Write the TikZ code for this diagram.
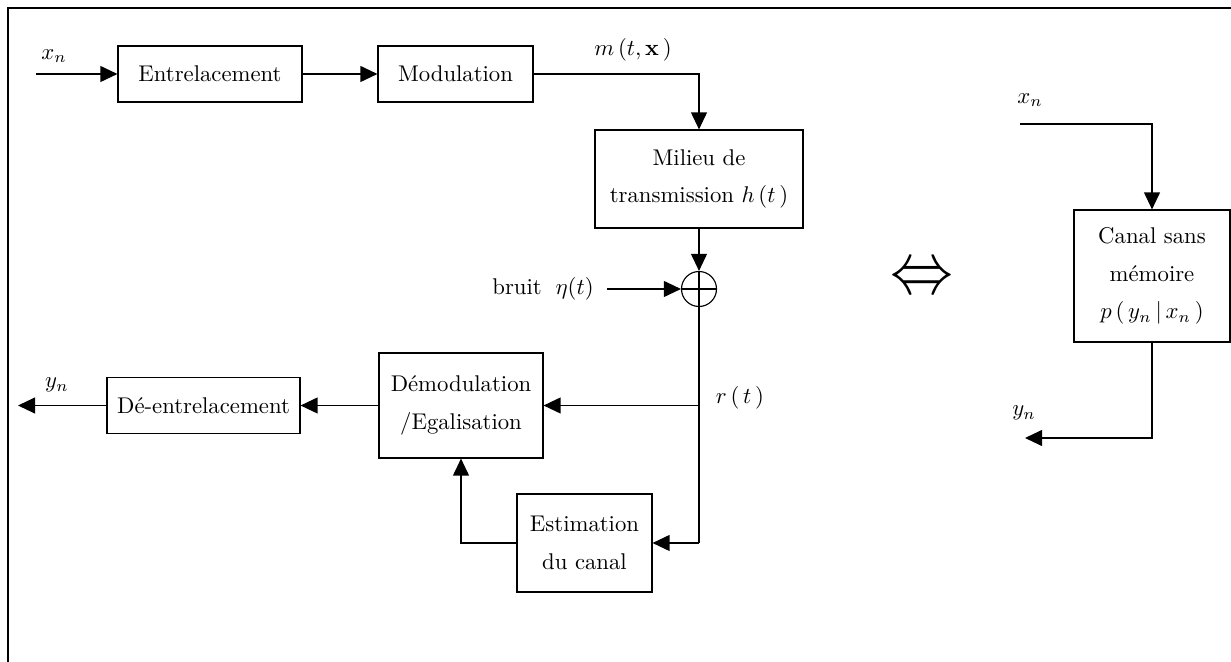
\documentclass[tikz,border=0pt]{standalone}
\usepackage{graphicx}
\usetikzlibrary{arrows.meta}
\begin{document}
\begin{tikzpicture}[x=0.44pt,y=-0.44pt,
  blk/.style={draw, line width=0.5pt, inner sep=0pt, align=center,
    font=\fontsize{10}{16.5}\selectfont},
  sz/.style 2 args={minimum width=#1*0.44pt, minimum height=#2*0.44pt},
  flow/.style={line width=0.6pt, -{Triangle[length=7.5pt,width=7pt]}},
  wire/.style={line width=0.6pt},
  lbl/.style={inner sep=0pt, font=\fontsize{10}{12}\selectfont}]
\useasboundingbox (0,0) rectangle (1231,662);
% frame
\draw[line width=1.1pt] (1231,8) -- (8,8) -- (8,662);

% emitter chain
\node[blk, sz={184}{56}] (ent) at (210,74) {Entrelacement};
\node[blk, sz={155}{56}] (mod) at (455.5,74) {Modulation};
\node[blk, sz={208}{98}] (mil) at (699,179) {Milieu de\\transmission $h\,(t\,)$};
\node[draw, circle, line width=0.5pt, minimum size=35*0.44pt, inner sep=0pt] (sum) at (699,289) {};
\draw[line width=0.5pt] (sum.north) -- (sum.south) (sum.west) -- (sum.east);

% receiver chain
\node[blk, sz={164}{105}] (dem) at (461,405.5) {Démodulation\\/Egalisation};
\node[blk, sz={135}{98}] (est) at (584.5,543) {Estimation\\du canal};
\node[blk, sz={193}{56}] (dei) at (203.5,405.5) {Dé-entrelacement};

% equivalent channel
\node[blk, sz={156}{132}] (can) at (1152,276) {Canal sans\\mémoire\\$p\,(\,y_n\,|\,x_n\,)$};

% connections, left part
\coordinate (xin) at (36,74);
\node[lbl] (xlab) at (54,56) {$x_n$};
\draw[flow] (xin) -- (ent);
\draw[flow] (ent) -- (mod);
\coordinate (mcorner) at (699,74);
\draw[flow] (mod.east) -- (mcorner) -- (mil.north);
\node[lbl] (mlab) at (633,50) {$m\,(t,\mathbf{x}\,)$};
\draw[flow] (mil.south) -- (sum.north);
\node[lbl] (bru) at (543,289) {bruit $\;\eta(t)$};
\coordinate (bin) at (607,289);
\draw[flow] (bin) -- (sum.west);
\coordinate (rbot) at (699,543);
\draw[wire] (sum.south) -- (rbot);
\draw[flow] (rbot) -- (est.east);
\draw[flow] (sum.south |- dem.east) -- (dem.east);
\node[lbl] (rlab) at (740,398) {$r\,(\,t\,)$};
\draw[flow] (est.west) -| (dem.south);
\draw[flow] (dem.west) -- (dei.east);
\coordinate (yout) at (18,405.5);
\draw[flow] (dei.west) -- (yout);
\node[lbl] (ylab) at (57,385) {$y_n$};

% equivalence sign
\node (eq) at (921.5,280) {\resizebox{27.7pt}{11.9pt}{$\Leftrightarrow$}};

% connections, right part
\coordinate (xin2) at (1020,124);
\draw[flow] (xin2) -| (can.north);
\node[lbl] (xlab2) at (1030,100) {$x_n$};
\coordinate (yout2) at (1025,438);
\draw[flow] (can.south) |- (yout2);
\node[lbl] (ylab2) at (1024,413) {$y_n$};
\end{tikzpicture}
\end{document}
